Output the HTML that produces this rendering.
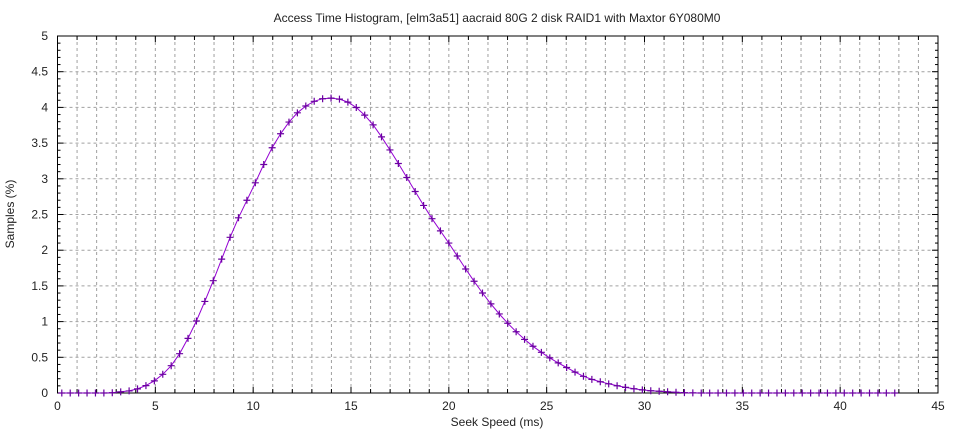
<!DOCTYPE html><html><head><style>body{margin:0;background:#fff}svg{font-family:"Liberation Sans",sans-serif}</style></head><body>
<svg id="s" width="960" height="432" xmlns="http://www.w3.org/2000/svg"></svg>
<script>
var s=document.getElementById('s'),h='';
var L=57.5,R=938,T=36,B=393;
function X(v){return L+(R-L)*v/45}function Y(v){return B-(B-T)*v/5}
h+='<rect width="960" height="432" fill="#fff"/>';
for(var i=1;i<45;i++){var x=X(i);h+='<line x1="'+x+'" y1="'+T+'" x2="'+x+'" y2="'+B+'" stroke="#a0a0a0" stroke-dasharray="3,3"/>';}
for(var j=1;j<10;j++){var y=Y(j*0.5);h+='<line x1="'+L+'" y1="'+y+'" x2="'+R+'" y2="'+y+'" stroke="#a0a0a0" stroke-dasharray="3,3"/>';}
for(var i=0;i<=45;i++){var x=X(i),l=(i%5==0)?6:4;h+='<line x1="'+x+'" y1="'+B+'" x2="'+x+'" y2="'+(B-l)+'" stroke="#000"/><line x1="'+x+'" y1="'+T+'" x2="'+x+'" y2="'+(T+l)+'" stroke="#000"/>';
 if(i%5==0)h+='<text x="'+x+'" y="410" font-size="12" text-anchor="middle" fill="#222">'+i+'</text>';}
for(var j=0;j<=50;j++){var y=Y(j*0.1),l=(j%5==0)?6:3;h+='<line x1="'+L+'" y1="'+y+'" x2="'+(L+l)+'" y2="'+y+'" stroke="#000"/><line x1="'+R+'" y1="'+y+'" x2="'+(R-l)+'" y2="'+y+'" stroke="#000"/>';
 if(j%5==0)h+='<text x="48" y="'+(y+4)+'" font-size="12" text-anchor="end" fill="#222">'+(j/10)+'</text>';}
h+='<rect x="'+L+'" y="'+T+'" width="'+(R-L)+'" height="'+(B-T)+'" fill="none" stroke="#000"/>';
var P=[[0,0],[2.5,0],[3,0.01],[4,0.05],[5,0.18],[6,0.45],[7,0.95],[8,1.6],[9,2.3],[10,2.88],[11,3.45],[12,3.85],[13,4.07],[14,4.13],[15,4.05],[16,3.8],[17,3.4],[18,2.95],[19,2.5],[20,2.1],[21,1.68],[22,1.3],[23,0.98],[24,0.72],[25,0.52],[26,0.36],[27,0.22],[28,0.14],[29,0.08],[30,0.04],[31,0.02],[32,0.005],[33,0],[45,0]];
function f(v){for(var k=0;k<P.length-1;k++)if(v<=P[k+1][0]){var a=P[k],b=P[k+1],t=(v-a[0])/(b[0]-a[0]);
 var m0=k>0?(b[1]-P[k-1][1])/(b[0]-P[k-1][0]):0,m1=k<P.length-2?(P[k+2][1]-a[1])/(P[k+2][0]-a[0]):0,d=b[0]-a[0];
 var t2=t*t,t3=t2*t;return (2*t3-3*t2+1)*a[1]+(t3-2*t2+t)*d*m0+(-2*t3+3*t2)*b[1]+(t3-t2)*d*m1;}return 0}
var pts=[],mk='';
for(var n=0;n<100;n++){var v=0.22+n*0.43,val=Math.max(0,f(v)),x=X(v),y=Y(val);pts.push(x.toFixed(1)+','+y.toFixed(1));
 mk+='M'+(x-3.5)+' '+y+'h7M'+x+' '+(y-3.5)+'v7';}
h+='<polyline points="'+pts.join(' ')+'" fill="none" stroke="#9400d3" stroke-width="1"/>';
h+='<path d="'+mk+'" stroke="#6a00a0" stroke-width="1.2" fill="none"/>';
h+='<text x="497" y="22" font-size="12" text-anchor="middle" fill="#222">Access Time Histogram, [elm3a51] aacraid 80G 2 disk RAID1 with Maxtor 6Y080M0</text>';
h+='<text x="497" y="426" font-size="12" text-anchor="middle" fill="#222">Seek Speed (ms)</text>';
h+='<text transform="translate(14,214) rotate(-90)" font-size="12" text-anchor="middle" fill="#222">Samples (%)</text>';
s.innerHTML=h;
</script></body></html>
